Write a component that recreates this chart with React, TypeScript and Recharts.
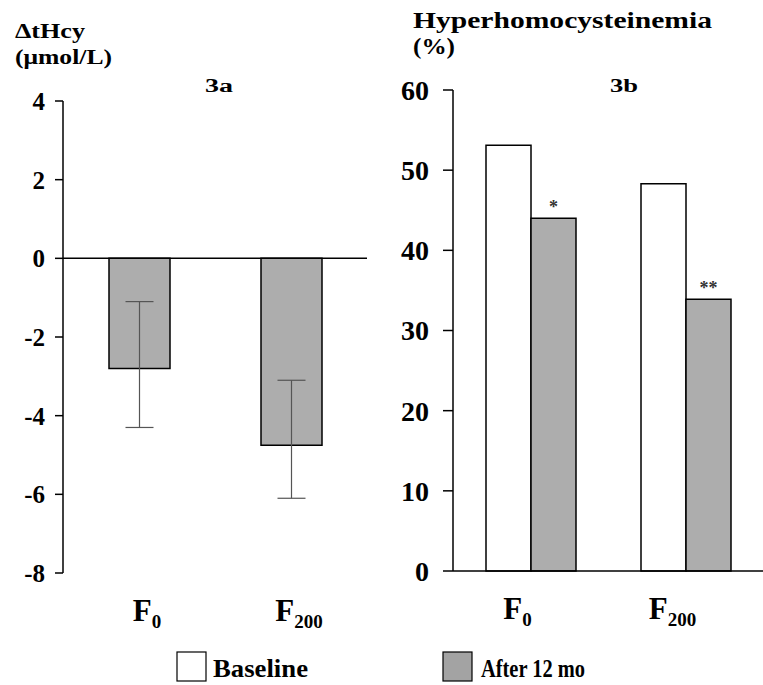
import { BarChart, Bar, XAxis, YAxis, ErrorBar, ReferenceLine, LabelList } from 'recharts';

const groups = ['F0', 'F200'];
const changeHcy = [-2.8, -4.75];
const changeErr = [[1.5, 1.7], [1.35, 1.65]];
const baselinePct = [53.1, 48.3];
const after12Pct = [44.0, 33.9];
const sigMarks = ['*', '**'];
const leftTicks = [-8, -6, -4, -2, 0, 2, 4];
const rightTicks = [0, 10, 20, 30, 40, 50, 60];

const leftData = groups.map((g, i) => ({ group: g, change: changeHcy[i], err: changeErr[i] }));
const rightData = groups.map((g, i) => ({
    group: g,
    baseline: baselinePct[i],
    after: after12Pct[i],
    sig: sigMarks[i]
}));

const serif = "'Liberation Serif', 'Times New Roman', serif";
const grey = '#adadad';

const GroupTick = ({ x, y, payload, shift }: any) => {
    const sub = String(payload.value).slice(1);
    return (
        <text x={x + shift} y={y + 40} textAnchor="middle" fontFamily={serif} fontWeight="bold" fill="#000">
            <tspan fontSize={31}>F</tspan>
            <tspan fontSize={19} dy={7}>{sub}</tspan>
        </text>
    );
};

const App = () => {
    return (
        <div style={{ position: 'absolute', left: 0, top: 0, width: 763, height: 685, background: '#fff' }}>
            <div style={{ position: 'absolute', left: 0, top: 0 }}>
                <BarChart
                    width={380}
                    height={685}
                    data={leftData}
                    margin={{ top: 101, right: 13, bottom: 52, left: 0 }}
                >
                    <XAxis
                        dataKey="group"
                        axisLine={false}
                        tickLine={false}
                        height={60}
                        tick={<GroupTick shift={8} />}
                    />
                    <YAxis
                        domain={[-8, 4]}
                        ticks={leftTicks}
                        width={63}
                        tickSize={8}
                        tickMargin={10}
                        axisLine={{ stroke: '#000', strokeWidth: 1.5 }}
                        tickLine={{ stroke: '#000', strokeWidth: 1.5 }}
                        tick={{ fill: '#000', fontSize: 25, fontWeight: 'bold', fontFamily: serif }}
                    />
                    <ReferenceLine y={0} stroke="#000" strokeWidth={1.5} />
                    <Bar dataKey="change" fill={grey} stroke="#000" strokeWidth={1.5} barSize={61} isAnimationActive={false}>
                        <ErrorBar dataKey="err" width={14} stroke="#555" strokeWidth={1.2} />
                    </Bar>
                </BarChart>
            </div>

            <div style={{ position: 'absolute', left: 380, top: 0 }}>
                <BarChart
                    width={383}
                    height={685}
                    data={rightData}
                    barGap={0}
                    margin={{ top: 90, right: 0, bottom: 54, left: 0 }}
                >
                    <XAxis
                        dataKey="group"
                        axisLine={{ stroke: '#000', strokeWidth: 1.5 }}
                        tickLine={false}
                        height={60}
                        tick={<GroupTick shift={-13} />}
                    />
                    <YAxis
                        domain={[0, 60]}
                        ticks={rightTicks}
                        width={73}
                        tickSize={10}
                        tickMargin={14}
                        axisLine={{ stroke: '#000', strokeWidth: 1.5 }}
                        tickLine={{ stroke: '#000', strokeWidth: 1.5 }}
                        tick={{ fill: '#000', fontSize: 28, fontWeight: 'bold', fontFamily: serif }}
                    />
                    <Bar dataKey="baseline" fill="#fff" stroke="#000" strokeWidth={1.5} barSize={45} isAnimationActive={false} />
                    <Bar dataKey="after" fill={grey} stroke="#000" strokeWidth={1.5} barSize={45} isAnimationActive={false}>
                        <LabelList dataKey="sig" position="top" offset={5} fill="#333" fontSize={18} fontWeight="bold" fontFamily={serif} />
                    </Bar>
                </BarChart>
            </div>

            <svg width={763} height={685} style={{ position: 'absolute', left: 0, top: 0, pointerEvents: 'none' }}>
                <g fontFamily={serif} fontWeight="bold" fill="#000">
                    <text x={15} y={38} fontSize={21} textLength={70} lengthAdjust="spacingAndGlyphs">ΔtHcy</text>
                    <text x={15} y={64} fontSize={22} textLength={97} lengthAdjust="spacingAndGlyphs">(μmol/L)</text>
                    <text x={205} y={92} fontSize={18} textLength={28} lengthAdjust="spacingAndGlyphs">3a</text>
                    <text x={413} y={28} fontSize={23} textLength={299} lengthAdjust="spacingAndGlyphs">Hyperhomocysteinemia</text>
                    <text x={413} y={54} fontSize={24} textLength={42} lengthAdjust="spacingAndGlyphs">(%)</text>
                    <text x={610} y={92} fontSize={18} textLength={28} lengthAdjust="spacingAndGlyphs">3b</text>

                    <rect x={177} y={652} width={29} height={29} fill="#fff" stroke="#000" strokeWidth={1.2} />
                    <text x={213} y={677} fontSize={25} textLength={95} lengthAdjust="spacingAndGlyphs">Baseline</text>
                    <rect x={443} y={652} width={29} height={29} fill="#a3a3a3" stroke="#000" strokeWidth={1.2} />
                    <text x={481} y={677} fontSize={25} textLength={104} lengthAdjust="spacingAndGlyphs">After 12 mo</text>
                </g>
            </svg>
        </div>
    );
};

export default App;
